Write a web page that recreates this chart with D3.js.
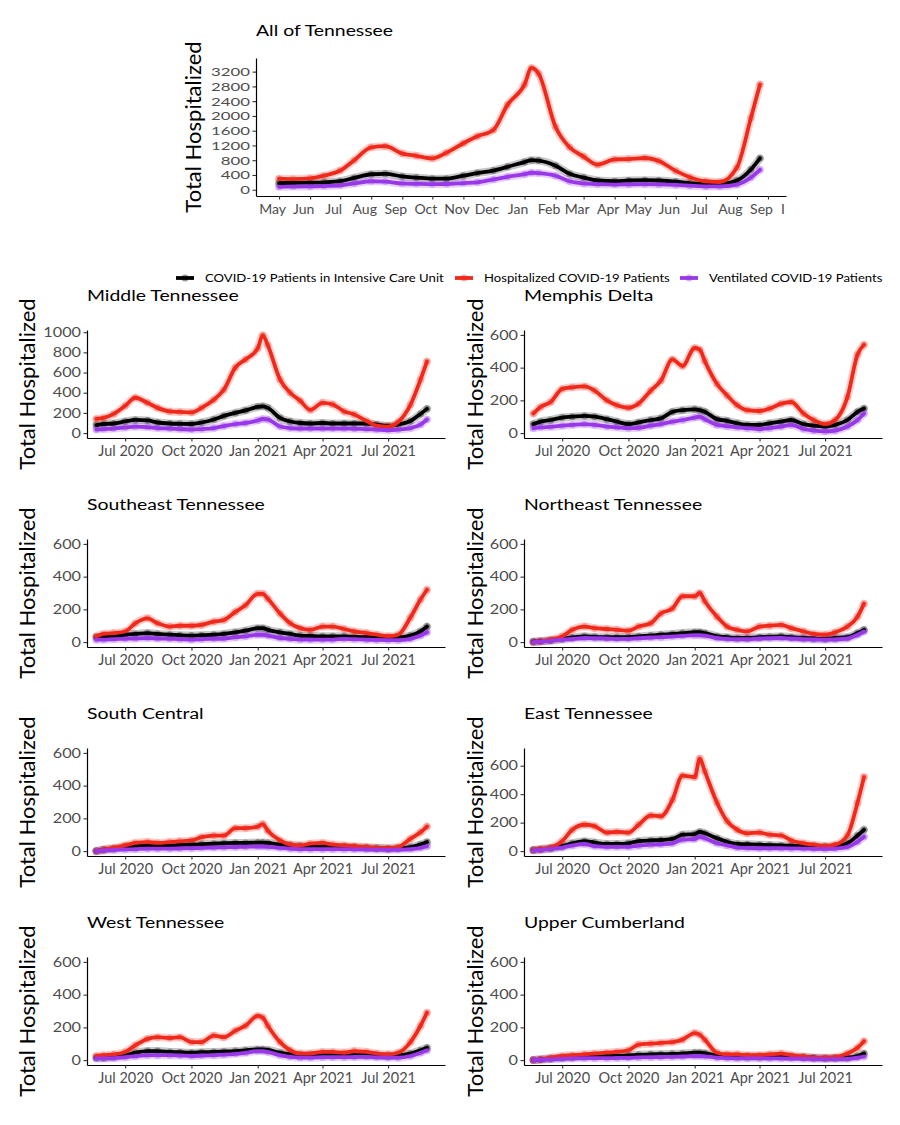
<!DOCTYPE html>
<html><head><meta charset="utf-8">
<script src="https://cdn.jsdelivr.net/npm/d3@7"></script>
<style>body{margin:0;background:#fff} svg text{font-family:Lato,"Open Sans",sans-serif}</style>
</head><body><svg id="c" width="900" height="1125"></svg>
<script>
const seriesNames = ["COVID-19 Patients in Intensive Care Unit","Hospitalized COVID-19 Patients","Ventilated COVID-19 Patients"];
const seriesColors = ["#000000","#f0291a","#9838e8"];

// ---- All of Tennessee ----
const topDates = ["2020-05-01","2020-05-15","2020-06-01","2020-06-15","2020-07-01","2020-07-15","2020-08-01","2020-08-15","2020-09-01","2020-09-15","2020-10-01","2020-10-15","2020-11-01","2020-11-15","2020-12-01","2020-12-15","2021-01-01","2021-01-08","2021-01-15","2021-02-01","2021-02-15","2021-03-01","2021-03-15","2021-04-01","2021-04-15","2021-05-01","2021-05-15","2021-06-01","2021-06-15","2021-07-01","2021-07-15","2021-08-01","2021-08-15","2021-08-24"];
const topHosp = [300,290,310,380,520,800,1150,1180,980,920,850,1000,1260,1450,1620,2300,2850,3300,3150,1700,1150,900,680,820,830,860,780,510,340,230,210,600,1950,2850];
const topICU  = [180,185,190,200,230,320,420,430,360,330,300,300,380,450,520,620,750,800,790,650,430,330,250,230,250,260,250,220,180,150,150,250,550,850];
const topVent = [80,85,90,100,120,170,230,220,170,160,150,155,180,200,280,350,420,460,450,380,230,170,150,140,145,150,145,130,110,90,90,140,330,540];
const topYTicks = [0,400,800,1200,1600,2000,2400,2800,3200];
const topYMax = 3400;

// ---- Regions ----
const regionDates = ["2020-05-22","2020-06-01","2020-06-15","2020-07-01","2020-07-15","2020-08-01","2020-08-15","2020-09-01","2020-09-15","2020-10-01","2020-10-15","2020-11-01","2020-11-15","2020-12-01","2020-12-15","2021-01-01","2021-01-08","2021-01-15","2021-02-01","2021-02-15","2021-03-01","2021-03-15","2021-04-01","2021-04-15","2021-05-01","2021-05-15","2021-06-01","2021-06-15","2021-07-01","2021-07-15","2021-08-01","2021-08-15","2021-08-24"];
const regionNames = ["Middle Tennessee","Memphis Delta","Southeast Tennessee","Northeast Tennessee","South Central","East Tennessee","West Tennessee","Upper Cumberland"];
const regionYMax = [973,600,600,600,600,690,600,600];

const middleICU  = [80,90,95,115,130,125,105,95,92,90,105,135,170,200,225,260,265,250,150,115,100,95,100,95,95,95,95,85,70,85,120,190,240];
const middleHosp = [140,150,190,270,350,300,250,215,210,205,250,330,430,650,730,840,970,870,530,400,320,230,300,285,215,185,120,75,65,110,280,530,710];
const middleVent = [35,40,45,55,65,60,50,45,40,35,40,50,70,90,100,125,140,135,65,50,45,45,45,45,45,42,40,35,30,35,50,85,135];

const memphisICU  = [55,70,80,95,100,105,100,85,70,55,65,80,90,130,140,145,140,130,85,75,60,50,50,60,70,80,55,45,40,50,80,130,150];
const memphisHosp = [120,160,190,270,280,285,260,200,170,155,180,260,320,450,410,520,510,440,300,230,170,140,135,150,180,190,120,80,55,80,220,480,540];
const memphisVent = [30,35,38,45,50,55,50,40,35,30,32,45,55,70,80,95,100,85,50,42,35,30,25,30,40,50,25,15,10,15,40,80,120];

const southeastICU  = [30,32,35,45,50,55,50,45,42,40,42,45,50,60,70,85,85,75,60,50,40,38,35,35,35,32,30,28,25,28,40,65,95];
const southeastHosp = [36,50,55,65,115,145,115,95,100,100,105,125,135,185,225,295,295,265,175,115,85,75,95,95,80,65,55,45,36,45,150,260,320];
const southeastVent = [15,15,18,20,22,25,22,20,18,15,18,20,22,30,35,45,45,40,25,20,15,15,15,15,20,18,15,13,12,12,20,40,60];

const northeastICU  = [2,5,10,20,28,35,32,30,30,30,35,40,45,50,55,60,60,55,35,30,25,25,30,32,35,30,25,22,20,25,30,55,75];
const northeastHosp = [0,5,15,35,75,95,85,80,75,70,95,115,175,205,280,280,300,250,155,95,75,65,95,100,105,85,65,50,45,60,95,155,235];
const northeastVent = [0,3,8,15,20,25,24,22,20,20,24,28,30,35,38,42,42,40,25,20,18,18,22,24,25,22,18,16,15,16,22,45,65];

const southCentralICU  = [0,8,15,25,30,35,35,35,38,40,42,45,48,50,50,52,52,50,40,35,30,28,28,27,25,23,20,18,15,17,25,40,55];
const southCentralHosp = [0,10,20,35,50,55,50,55,60,65,85,95,95,140,140,150,165,125,65,40,35,45,50,40,35,30,25,20,18,25,75,115,150];
const southCentralVent = [0,4,7,10,12,15,15,15,16,18,20,22,23,25,26,28,28,26,20,15,12,12,12,12,12,11,10,9,8,9,12,20,30];

const eastICU  = [8,12,20,35,55,70,60,50,50,55,70,75,78,85,115,120,135,125,90,65,50,48,45,42,40,38,35,32,30,35,55,110,150];
const eastHosp = [8,15,25,70,150,185,175,130,135,130,185,250,245,360,530,520,650,560,340,210,150,125,130,115,110,75,55,45,35,45,110,340,520];
const eastVent = [5,8,15,25,40,50,35,30,30,30,38,45,48,55,80,85,100,90,55,40,25,22,20,20,20,19,18,16,15,18,30,65,100];

const westICU  = [15,15,20,30,45,55,55,50,48,45,48,50,52,55,60,65,65,62,45,35,30,30,30,30,30,30,30,28,25,28,40,60,75];
const westHosp = [25,30,35,50,90,130,140,135,140,110,110,150,140,180,210,270,260,210,110,60,40,40,50,50,45,55,50,40,35,45,110,210,290];
const westVent = [10,10,12,18,24,30,30,30,28,25,28,30,33,38,45,55,55,50,30,20,15,15,18,18,18,19,20,17,15,15,25,45,60];

const upperICU  = [0,3,8,15,18,22,24,25,26,28,32,35,36,38,40,45,45,42,28,24,22,22,22,22,22,20,18,15,12,13,15,25,40];
const upperHosp = [0,5,15,25,30,35,40,45,50,60,95,100,105,110,125,165,155,125,45,35,35,30,30,35,40,30,22,15,15,18,40,75,115];
const upperVent = [0,2,5,8,10,12,12,12,13,14,16,18,19,20,22,25,25,23,15,12,10,10,10,10,10,9,8,7,6,6,8,15,22];

const regionSeries = [
  [middleICU, middleHosp, middleVent],
  [memphisICU, memphisHosp, memphisVent],
  [southeastICU, southeastHosp, southeastVent],
  [northeastICU, northeastHosp, northeastVent],
  [southCentralICU, southCentralHosp, southCentralVent],
  [eastICU, eastHosp, eastVent],
  [westICU, westHosp, westVent],
  [upperICU, upperHosp, upperVent]
];
const regionXTickDates = ["2020-07-01","2020-10-01","2021-01-01","2021-04-01","2021-07-01"];
const regionXTickLabels = ["Jul 2020","Oct 2020","Jan 2021","Apr 2021","Jul 2021"];
const yTitle = "Total Hospitalized";

// ---------- drawing ----------
const svg = d3.select("#c");
const parse = d3.timeParse("%Y-%m-%d");
const SX = 1.25; // horizontal widening of the typeface

function widen(sel, sx){
  sel.each(function(){
    const t = d3.select(this);
    const x = +(t.attr("x") || 0);
    t.attr("x", 0).attr("transform", `translate(${x},0) scale(${sx},1)`);
  });
}

function panel(o){
  const g = svg.append("g");
  const x = d3.scaleTime().domain(o.xDomain.map(parse)).range([o.left, o.right]);
  const ext = o.yMax*0.05;
  const y = d3.scaleLinear().domain([-ext, o.yMax+ext]).range([o.bottom, o.top]);
  const dates = o.dates.map(parse);
  const line = d3.line().x(d=>x(d[0])).y(d=>y(d[1])).curve(d3.curveMonotoneX);
  const data = o.series.map(vals => vals.map((v,j)=>[dates[j], v]));
  data.forEach((pts,i)=>{
    g.append("path").datum(pts).attr("d", line).attr("fill","none")
      .attr("stroke", seriesColors[i]).attr("stroke-opacity", 0.22)
      .attr("stroke-width", 8).attr("stroke-linejoin","round").attr("stroke-linecap","round");
    g.append("g").selectAll("circle").data(pts).join("circle")
      .attr("cx", d=>x(d[0])).attr("cy", d=>y(d[1])).attr("r", 3.5)
      .attr("fill", seriesColors[i]).attr("fill-opacity", 0.3);
  });
  data.forEach((pts,i)=>{
    g.append("path").datum(pts).attr("d", line).attr("fill","none")
      .attr("stroke", seriesColors[i]).attr("stroke-width", 3.8)
      .attr("stroke-linejoin","round").attr("stroke-linecap","round");
  });
  const ya = d3.axisLeft(y).tickValues(o.yTicks).tickFormat(d3.format("d")).tickSize(3.5).tickSizeOuter(0).tickPadding(2.5);
  const yg = g.append("g").attr("transform",`translate(${o.left},0)`).call(ya);
  let xa = d3.axisBottom(x).tickSize(3.5).tickSizeOuter(0).tickPadding(4.2);
  if (o.xTickDates) xa = xa.tickValues(o.xTickDates.map(parse)).tickFormat((d,i)=>o.xTickLabels[i]);
  else xa = xa.ticks(d3.timeMonth.every(1)).tickFormat(d3.timeFormat("%b"));
  const xg = g.append("g").attr("transform",`translate(0,${o.bottom})`).call(xa);
  [yg,xg].forEach(a=>{
    a.select(".domain").attr("stroke","#000").attr("stroke-width",1.2);
    a.selectAll(".tick line").attr("stroke","#333").attr("stroke-width",1.1);
    a.selectAll(".tick text").attr("fill","#4d4d4d").style("font-family","Lato");
  });
  yg.selectAll(".tick text").style("font-size", (o.yTickFont || 13)+"px");
  widen(yg.selectAll(".tick text"), o.yTickSX || SX);
  xg.selectAll(".tick text").style("font-size", (o.xTickFont || 14.5)+"px");
  if (o.xLabelShift) xg.selectAll(".tick text").attr("dx", o.xLabelShift);
  const tt = g.append("text").attr("x", o.left).attr("y", o.top - o.titleGap)
    .style("font-size","15.5px").attr("fill","#000").text(o.title);
  widen(tt, SX);
  g.append("text").attr("transform",`translate(${o.yTitleX},${(o.top+o.bottom)/2}) rotate(-90)`)
    .attr("text-anchor","middle").style("font-size","22px").attr("fill","#000").text(yTitle);
  return {g, x, y, xg};
}

const topPanel = panel({
  left:256, right:786, top:58, bottom:196,
  xDomain:["2020-04-08","2021-09-19"], yMax: topYMax, yTicks: topYTicks,
  dates: topDates, series:[topICU, topHosp, topVent],
  title:"All of Tennessee", titleGap:21.5, yTitleX:201, xLabelShift:-7,
  yTickFont:12, yTickSX:1.4, xTickFont:14
});
topPanel.xg.append("text").attr("x", 783).attr("y", 7.7).attr("dy","0.71em")
  .attr("fill","#4d4d4d").attr("text-anchor","middle").style("font-size","14px").text("I");

const legendX = [176, 455, 680];
const legendY = 278;
const lg = svg.append("g");
seriesNames.forEach((name,i)=>{
  const gx = legendX[i];
  lg.append("line").attr("x1",gx).attr("x2",gx+18).attr("y1",legendY).attr("y2",legendY)
    .attr("stroke",seriesColors[i]).attr("stroke-width",3.8);
  lg.append("circle").attr("cx",gx+9).attr("cy",legendY).attr("r",3.5).attr("fill",seriesColors[i]).attr("fill-opacity",0.4);
  const t = lg.append("text").attr("x",gx+29).attr("y",legendY).attr("dy","0.35em")
    .style("font-size","10.5px").attr("fill","#000").text(name);
  widen(t, SX);
});

regionNames.forEach((name,k)=>{
  const col = k%2, row = Math.floor(k/2);
  const left = col===0 ? 87 : 524;
  const topY = 330 + row*209;
  const yMax = regionYMax[k];
  const ticks = d3.range(0, yMax*1.05+1, 200);
  panel({
    left, right:left+358, top:topY, bottom:topY+108,
    xDomain:["2020-05-09","2021-09-18"], yMax, yTicks:ticks,
    dates: regionDates, series: regionSeries[k],
    xTickDates: regionXTickDates, xTickLabels: regionXTickLabels,
    title:name, titleGap:28.5, yTitleX: col===0 ? 35 : 483
  });
});
</script></body></html>
